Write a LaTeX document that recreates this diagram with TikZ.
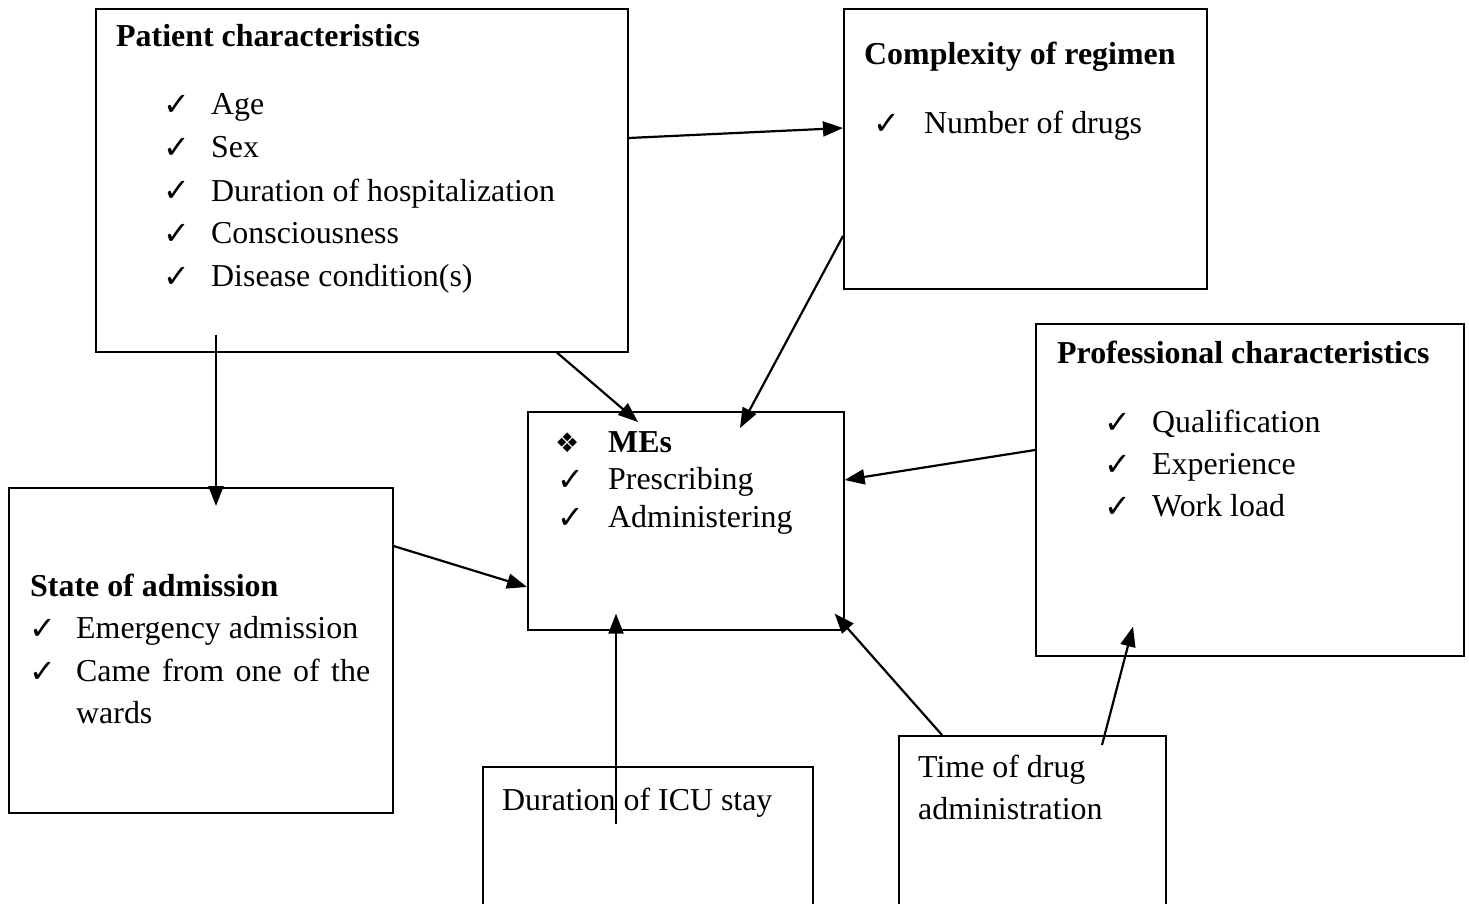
\documentclass[tikz,border=0pt]{standalone}
\usepackage{fontspec}
\setmainfont{Liberation Serif}
\newfontfamily\sym{DejaVu Sans}
\usetikzlibrary{calc,arrows.meta}
\tikzset{
  box/.style={draw, line width=1.6pt, anchor=north west, inner sep=0pt},
  txt/.style={anchor=base west, inner sep=0pt, font=\fontsize{31.9}{43}\selectfont},
  ttl/.style={txt, font=\fontsize{31.9}{43}\selectfont\bfseries},
  chk/.style={anchor=base west, inner sep=0pt, font=\sym\fontsize{32}{43}\selectfont\bfseries},
  arr/.style={line width=2.2pt, -{Triangle[length=20pt,width=15pt]}}
}
\newcommand{\ck}{✓}
\begin{document}
\begin{tikzpicture}[x=1pt,y=-1pt]
\useasboundingbox (0,0) rectangle (1469,904);
% boxes
\node[box, minimum width=532, minimum height=343] (pat) at (95,8) {};
\node[box, minimum width=363, minimum height=280] (comp) at (843,8) {};
\node[box, minimum width=428, minimum height=332] (prof) at (1035,323) {};
\node[box, minimum width=316, minimum height=218] (mes) at (527,411) {};
\node[box, minimum width=384, minimum height=325] (state) at (8,487) {};
\node[box, minimum width=330, minimum height=160] (dur) at (482,766) {};
\node[box, minimum width=267, minimum height=190] (time) at (898,735) {};
% patient characteristics
\node[ttl] (pt) at (116,47) {Patient characteristics};
\foreach \y/\t [count=\i] in {115/Age,158/Sex,201/Duration of hospitalization,243/Consciousness,286/Disease condition(s)}{
  \node[chk] (pc\i) at (163,\y+1) {\ck};
  \node[txt] (pi\i) at (211,\y) {\t};
}
% complexity
\node[ttl] (ct) at (864,65) {Complexity of regimen};
\node[chk] (cc1) at (873,135) {\ck};
\node[txt] (ci1) at (924,134) {Number of drugs};
% professional
\node[ttl] (prt) at (1057,363) {Professional characteristics};
\foreach \y/\t [count=\i] in {432/Qualification,474/Experience,516/Work load}{
  \node[chk] (prc\i) at (1104,\y+1) {\ck};
  \node[txt] (pri\i) at (1152,\y) {\t};
}
% MEs
\node[anchor=base west, inner sep=0pt, font=\sym\fontsize{27}{43}\selectfont] (md) at (555,452) {❖};
\node[ttl] (mt) at (608,452) {MEs};
\node[chk] (mc1) at (557,490) {\ck};
\node[txt] (mi1) at (608,489) {Prescribing};
\node[chk] (mc2) at (557,528) {\ck};
\node[txt] (mi2) at (608,527) {Administering};
% state of admission
\node[ttl] (st) at (30,596) {State of admission};
\node[chk] (sc1) at (29,639) {\ck};
\node[txt] (si1) at (76,638) {Emergency admission};
\node[chk] (sc2) at (29,682) {\ck};
\node[txt] (si2) at (76,681) {\makebox[294pt][s]{Came from one of the}};
\node[txt] (si3) at (76,723) {wards};
% duration
\node[txt] (dt) at (502,810) {Duration of ICU stay};
% time
\node[txt] (tt1) at (918,777) {Time of drug};
\node[txt] (tt2) at (918,819) {administration};
% arrows
\draw[arr] ($(pat.north east)+(0,130)$) -- ($(comp.north west)+(0,120)$);
\draw[arr] ($(comp.north west)+(0,228)$) -- ($(mes.north west)+(213,17)$);
\draw[arr] ($(pat.south west)+(462,0)$) -- ($(mes.north west)+(111,11)$);
\draw[arr] ($(pat.south west)+(121,-18)$) -- ($(state.north west)+(208,19)$);
\draw[arr] ($(state.north east)+(0,59)$) -- ($(mes.north west)+(0,176)$);
\draw[arr] ($(prof.north west)+(0,127)$) -- ($(mes.north east)+(0,69)$);
\draw[arr] ($(dur.north west)+(134,58)$) -- ($(mes.south west)+(89,-17)$);
\draw[arr] ($(time.north west)+(44,0)$) -- ($(mes.south east)+(-10,-17)$);
\draw[arr] ($(time.north west)+(204,10)$) -- ($(prof.south west)+(98,-30)$);
\end{tikzpicture}
\end{document}
